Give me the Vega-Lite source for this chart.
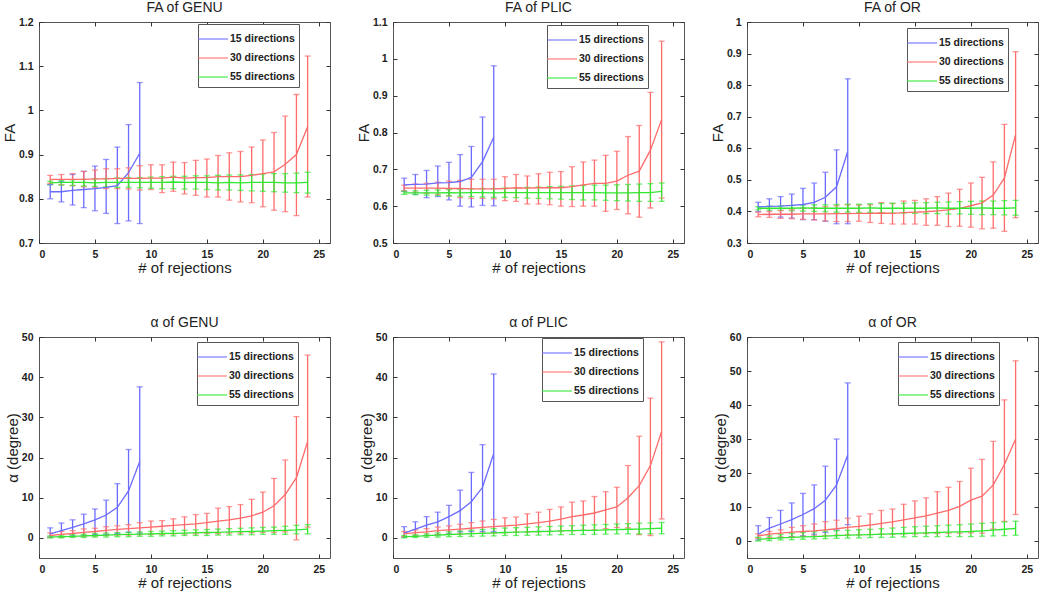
{
"$schema": "https://vega.github.io/schema/vega-lite/v6.json",
"padding": {"left": 1, "top": 0, "right": 5, "bottom": 0},
"background": "white",
"config": {
 "font": "Liberation Sans",
 "view": {"stroke": "#555", "strokeWidth": 1},
 "axis": {"grid": false, "domain": false, "tickSize": -4, "tickColor": "#333", "labelFontSize": 10.5, "labelFontWeight": "bold", "labelColor": "#222", "labelPadding": 10, "titleFontSize": 15, "titleFontWeight": "normal", "titleColor": "#222", "titlePadding": 1},
 "title": {"fontSize": 14, "fontWeight": "normal", "color": "#222", "offset": 2},
 "legend": {"orient": "none", "title": null, "strokeColor": "#555", "fillColor": "white", "padding": 4, "symbolType": "M-1.5,0L1.5,0", "symbolSize": 400, "symbolStrokeWidth": 1.5, "labelFontSize": 10.5, "labelFontWeight": "bold", "labelColor": "#222", "rowPadding": 2, "labelOffset": 6}
},
"resolve": {"legend": {"color": "independent"}},
"columns": 3,
"bounds": "flush",
"spacing": {"row": 94, "column": 63},
"data": {"values": [
{"p":"FA-GENU","s":"15 directions","x":1,"m":0.816,"lo":0.800,"hi":0.832},
{"p":"FA-GENU","s":"15 directions","x":2,"m":0.816,"lo":0.793,"hi":0.839},
{"p":"FA-GENU","s":"15 directions","x":3,"m":0.819,"lo":0.786,"hi":0.855},
{"p":"FA-GENU","s":"15 directions","x":4,"m":0.821,"lo":0.780,"hi":0.862},
{"p":"FA-GENU","s":"15 directions","x":5,"m":0.823,"lo":0.773,"hi":0.874},
{"p":"FA-GENU","s":"15 directions","x":6,"m":0.826,"lo":0.767,"hi":0.889},
{"p":"FA-GENU","s":"15 directions","x":7,"m":0.830,"lo":0.744,"hi":0.917},
{"p":"FA-GENU","s":"15 directions","x":8,"m":0.859,"lo":0.750,"hi":0.968},
{"p":"FA-GENU","s":"15 directions","x":9,"m":0.903,"lo":0.744,"hi":1.063},
{"p":"FA-GENU","s":"30 directions","x":1,"m":0.844,"lo":0.835,"hi":0.853},
{"p":"FA-GENU","s":"30 directions","x":2,"m":0.844,"lo":0.832,"hi":0.855},
{"p":"FA-GENU","s":"30 directions","x":3,"m":0.844,"lo":0.830,"hi":0.857},
{"p":"FA-GENU","s":"30 directions","x":4,"m":0.844,"lo":0.827,"hi":0.862},
{"p":"FA-GENU","s":"30 directions","x":5,"m":0.845,"lo":0.825,"hi":0.865},
{"p":"FA-GENU","s":"30 directions","x":6,"m":0.845,"lo":0.823,"hi":0.868},
{"p":"FA-GENU","s":"30 directions","x":7,"m":0.846,"lo":0.823,"hi":0.868},
{"p":"FA-GENU","s":"30 directions","x":8,"m":0.846,"lo":0.822,"hi":0.870},
{"p":"FA-GENU","s":"30 directions","x":9,"m":0.846,"lo":0.820,"hi":0.875},
{"p":"FA-GENU","s":"30 directions","x":10,"m":0.847,"lo":0.821,"hi":0.877},
{"p":"FA-GENU","s":"30 directions","x":11,"m":0.847,"lo":0.814,"hi":0.877},
{"p":"FA-GENU","s":"30 directions","x":12,"m":0.849,"lo":0.817,"hi":0.883},
{"p":"FA-GENU","s":"30 directions","x":13,"m":0.847,"lo":0.811,"hi":0.882},
{"p":"FA-GENU","s":"30 directions","x":14,"m":0.848,"lo":0.808,"hi":0.887},
{"p":"FA-GENU","s":"30 directions","x":15,"m":0.848,"lo":0.804,"hi":0.890},
{"p":"FA-GENU","s":"30 directions","x":16,"m":0.850,"lo":0.804,"hi":0.898},
{"p":"FA-GENU","s":"30 directions","x":17,"m":0.850,"lo":0.797,"hi":0.904},
{"p":"FA-GENU","s":"30 directions","x":18,"m":0.850,"lo":0.793,"hi":0.907},
{"p":"FA-GENU","s":"30 directions","x":19,"m":0.853,"lo":0.791,"hi":0.917},
{"p":"FA-GENU","s":"30 directions","x":20,"m":0.857,"lo":0.782,"hi":0.933},
{"p":"FA-GENU","s":"30 directions","x":21,"m":0.861,"lo":0.774,"hi":0.950},
{"p":"FA-GENU","s":"30 directions","x":22,"m":0.878,"lo":0.771,"hi":0.987},
{"p":"FA-GENU","s":"30 directions","x":23,"m":0.900,"lo":0.762,"hi":1.036},
{"p":"FA-GENU","s":"30 directions","x":24,"m":0.963,"lo":0.804,"hi":1.123},
{"p":"FA-GENU","s":"55 directions","x":1,"m":0.836,"lo":0.832,"hi":0.840},
{"p":"FA-GENU","s":"55 directions","x":2,"m":0.837,"lo":0.831,"hi":0.842},
{"p":"FA-GENU","s":"55 directions","x":3,"m":0.837,"lo":0.830,"hi":0.843},
{"p":"FA-GENU","s":"55 directions","x":4,"m":0.837,"lo":0.829,"hi":0.844},
{"p":"FA-GENU","s":"55 directions","x":5,"m":0.836,"lo":0.828,"hi":0.845},
{"p":"FA-GENU","s":"55 directions","x":6,"m":0.837,"lo":0.827,"hi":0.846},
{"p":"FA-GENU","s":"55 directions","x":7,"m":0.837,"lo":0.826,"hi":0.847},
{"p":"FA-GENU","s":"55 directions","x":8,"m":0.837,"lo":0.826,"hi":0.848},
{"p":"FA-GENU","s":"55 directions","x":9,"m":0.837,"lo":0.825,"hi":0.848},
{"p":"FA-GENU","s":"55 directions","x":10,"m":0.837,"lo":0.824,"hi":0.849},
{"p":"FA-GENU","s":"55 directions","x":11,"m":0.837,"lo":0.823,"hi":0.850},
{"p":"FA-GENU","s":"55 directions","x":12,"m":0.838,"lo":0.823,"hi":0.851},
{"p":"FA-GENU","s":"55 directions","x":13,"m":0.837,"lo":0.822,"hi":0.851},
{"p":"FA-GENU","s":"55 directions","x":14,"m":0.837,"lo":0.822,"hi":0.852},
{"p":"FA-GENU","s":"55 directions","x":15,"m":0.837,"lo":0.821,"hi":0.852},
{"p":"FA-GENU","s":"55 directions","x":16,"m":0.836,"lo":0.820,"hi":0.853},
{"p":"FA-GENU","s":"55 directions","x":17,"m":0.837,"lo":0.820,"hi":0.854},
{"p":"FA-GENU","s":"55 directions","x":18,"m":0.836,"lo":0.819,"hi":0.854},
{"p":"FA-GENU","s":"55 directions","x":19,"m":0.837,"lo":0.818,"hi":0.855},
{"p":"FA-GENU","s":"55 directions","x":20,"m":0.837,"lo":0.817,"hi":0.856},
{"p":"FA-GENU","s":"55 directions","x":21,"m":0.837,"lo":0.816,"hi":0.857},
{"p":"FA-GENU","s":"55 directions","x":22,"m":0.836,"lo":0.815,"hi":0.857},
{"p":"FA-GENU","s":"55 directions","x":23,"m":0.836,"lo":0.814,"hi":0.858},
{"p":"FA-GENU","s":"55 directions","x":24,"m":0.837,"lo":0.813,"hi":0.860},
{"p":"FA-PLIC","s":"15 directions","x":1,"m":0.658,"lo":0.640,"hi":0.676},
{"p":"FA-PLIC","s":"15 directions","x":2,"m":0.659,"lo":0.632,"hi":0.686},
{"p":"FA-PLIC","s":"15 directions","x":3,"m":0.660,"lo":0.623,"hi":0.697},
{"p":"FA-PLIC","s":"15 directions","x":4,"m":0.663,"lo":0.626,"hi":0.709},
{"p":"FA-PLIC","s":"15 directions","x":5,"m":0.664,"lo":0.617,"hi":0.719},
{"p":"FA-PLIC","s":"15 directions","x":6,"m":0.667,"lo":0.600,"hi":0.740},
{"p":"FA-PLIC","s":"15 directions","x":7,"m":0.678,"lo":0.598,"hi":0.762},
{"p":"FA-PLIC","s":"15 directions","x":8,"m":0.721,"lo":0.602,"hi":0.842},
{"p":"FA-PLIC","s":"15 directions","x":9,"m":0.787,"lo":0.601,"hi":0.981},
{"p":"FA-PLIC","s":"30 directions","x":1,"m":0.649,"lo":0.642,"hi":0.657},
{"p":"FA-PLIC","s":"30 directions","x":2,"m":0.649,"lo":0.638,"hi":0.660},
{"p":"FA-PLIC","s":"30 directions","x":3,"m":0.649,"lo":0.635,"hi":0.662},
{"p":"FA-PLIC","s":"30 directions","x":4,"m":0.649,"lo":0.632,"hi":0.665},
{"p":"FA-PLIC","s":"30 directions","x":5,"m":0.648,"lo":0.628,"hi":0.668},
{"p":"FA-PLIC","s":"30 directions","x":6,"m":0.648,"lo":0.623,"hi":0.670},
{"p":"FA-PLIC","s":"30 directions","x":7,"m":0.647,"lo":0.621,"hi":0.673},
{"p":"FA-PLIC","s":"30 directions","x":8,"m":0.647,"lo":0.621,"hi":0.673},
{"p":"FA-PLIC","s":"30 directions","x":9,"m":0.647,"lo":0.620,"hi":0.673},
{"p":"FA-PLIC","s":"30 directions","x":10,"m":0.648,"lo":0.615,"hi":0.680},
{"p":"FA-PLIC","s":"30 directions","x":11,"m":0.650,"lo":0.613,"hi":0.686},
{"p":"FA-PLIC","s":"30 directions","x":12,"m":0.649,"lo":0.606,"hi":0.682},
{"p":"FA-PLIC","s":"30 directions","x":13,"m":0.650,"lo":0.606,"hi":0.688},
{"p":"FA-PLIC","s":"30 directions","x":14,"m":0.650,"lo":0.604,"hi":0.692},
{"p":"FA-PLIC","s":"30 directions","x":15,"m":0.650,"lo":0.600,"hi":0.694},
{"p":"FA-PLIC","s":"30 directions","x":16,"m":0.653,"lo":0.599,"hi":0.707},
{"p":"FA-PLIC","s":"30 directions","x":17,"m":0.658,"lo":0.600,"hi":0.720},
{"p":"FA-PLIC","s":"30 directions","x":18,"m":0.662,"lo":0.600,"hi":0.725},
{"p":"FA-PLIC","s":"30 directions","x":19,"m":0.662,"lo":0.586,"hi":0.738},
{"p":"FA-PLIC","s":"30 directions","x":20,"m":0.668,"lo":0.591,"hi":0.749},
{"p":"FA-PLIC","s":"30 directions","x":21,"m":0.684,"lo":0.579,"hi":0.789},
{"p":"FA-PLIC","s":"30 directions","x":22,"m":0.695,"lo":0.570,"hi":0.819},
{"p":"FA-PLIC","s":"30 directions","x":23,"m":0.752,"lo":0.595,"hi":0.909},
{"p":"FA-PLIC","s":"30 directions","x":24,"m":0.835,"lo":0.622,"hi":1.048},
{"p":"FA-PLIC","s":"55 directions","x":1,"m":0.636,"lo":0.632,"hi":0.641},
{"p":"FA-PLIC","s":"55 directions","x":2,"m":0.636,"lo":0.631,"hi":0.642},
{"p":"FA-PLIC","s":"55 directions","x":3,"m":0.636,"lo":0.630,"hi":0.643},
{"p":"FA-PLIC","s":"55 directions","x":4,"m":0.636,"lo":0.629,"hi":0.644},
{"p":"FA-PLIC","s":"55 directions","x":5,"m":0.637,"lo":0.628,"hi":0.645},
{"p":"FA-PLIC","s":"55 directions","x":6,"m":0.636,"lo":0.627,"hi":0.646},
{"p":"FA-PLIC","s":"55 directions","x":7,"m":0.637,"lo":0.626,"hi":0.647},
{"p":"FA-PLIC","s":"55 directions","x":8,"m":0.637,"lo":0.625,"hi":0.648},
{"p":"FA-PLIC","s":"55 directions","x":9,"m":0.636,"lo":0.624,"hi":0.648},
{"p":"FA-PLIC","s":"55 directions","x":10,"m":0.637,"lo":0.624,"hi":0.649},
{"p":"FA-PLIC","s":"55 directions","x":11,"m":0.637,"lo":0.623,"hi":0.650},
{"p":"FA-PLIC","s":"55 directions","x":12,"m":0.637,"lo":0.622,"hi":0.651},
{"p":"FA-PLIC","s":"55 directions","x":13,"m":0.637,"lo":0.621,"hi":0.652},
{"p":"FA-PLIC","s":"55 directions","x":14,"m":0.637,"lo":0.620,"hi":0.653},
{"p":"FA-PLIC","s":"55 directions","x":15,"m":0.637,"lo":0.619,"hi":0.654},
{"p":"FA-PLIC","s":"55 directions","x":16,"m":0.637,"lo":0.618,"hi":0.655},
{"p":"FA-PLIC","s":"55 directions","x":17,"m":0.637,"lo":0.617,"hi":0.656},
{"p":"FA-PLIC","s":"55 directions","x":18,"m":0.637,"lo":0.617,"hi":0.657},
{"p":"FA-PLIC","s":"55 directions","x":19,"m":0.636,"lo":0.616,"hi":0.657},
{"p":"FA-PLIC","s":"55 directions","x":20,"m":0.636,"lo":0.615,"hi":0.658},
{"p":"FA-PLIC","s":"55 directions","x":21,"m":0.636,"lo":0.614,"hi":0.659},
{"p":"FA-PLIC","s":"55 directions","x":22,"m":0.637,"lo":0.613,"hi":0.660},
{"p":"FA-PLIC","s":"55 directions","x":23,"m":0.637,"lo":0.613,"hi":0.661},
{"p":"FA-PLIC","s":"55 directions","x":24,"m":0.640,"lo":0.613,"hi":0.663},
{"p":"FA-OR","s":"15 directions","x":1,"m":0.414,"lo":0.399,"hi":0.429},
{"p":"FA-OR","s":"15 directions","x":2,"m":0.416,"lo":0.390,"hi":0.440},
{"p":"FA-OR","s":"15 directions","x":3,"m":0.417,"lo":0.382,"hi":0.447},
{"p":"FA-OR","s":"15 directions","x":4,"m":0.419,"lo":0.379,"hi":0.455},
{"p":"FA-OR","s":"15 directions","x":5,"m":0.422,"lo":0.374,"hi":0.473},
{"p":"FA-OR","s":"15 directions","x":6,"m":0.429,"lo":0.374,"hi":0.490},
{"p":"FA-OR","s":"15 directions","x":7,"m":0.445,"lo":0.369,"hi":0.524},
{"p":"FA-OR","s":"15 directions","x":8,"m":0.478,"lo":0.361,"hi":0.595},
{"p":"FA-OR","s":"15 directions","x":9,"m":0.590,"lo":0.361,"hi":0.820},
{"p":"FA-OR","s":"30 directions","x":1,"m":0.390,"lo":0.383,"hi":0.398},
{"p":"FA-OR","s":"30 directions","x":2,"m":0.391,"lo":0.381,"hi":0.400},
{"p":"FA-OR","s":"30 directions","x":3,"m":0.391,"lo":0.378,"hi":0.403},
{"p":"FA-OR","s":"30 directions","x":4,"m":0.391,"lo":0.377,"hi":0.405},
{"p":"FA-OR","s":"30 directions","x":5,"m":0.392,"lo":0.375,"hi":0.410},
{"p":"FA-OR","s":"30 directions","x":6,"m":0.392,"lo":0.373,"hi":0.412},
{"p":"FA-OR","s":"30 directions","x":7,"m":0.392,"lo":0.370,"hi":0.415},
{"p":"FA-OR","s":"30 directions","x":8,"m":0.393,"lo":0.368,"hi":0.418},
{"p":"FA-OR","s":"30 directions","x":9,"m":0.393,"lo":0.368,"hi":0.421},
{"p":"FA-OR","s":"30 directions","x":10,"m":0.394,"lo":0.369,"hi":0.420},
{"p":"FA-OR","s":"30 directions","x":11,"m":0.394,"lo":0.365,"hi":0.421},
{"p":"FA-OR","s":"30 directions","x":12,"m":0.395,"lo":0.362,"hi":0.428},
{"p":"FA-OR","s":"30 directions","x":13,"m":0.394,"lo":0.360,"hi":0.425},
{"p":"FA-OR","s":"30 directions","x":14,"m":0.396,"lo":0.360,"hi":0.433},
{"p":"FA-OR","s":"30 directions","x":15,"m":0.398,"lo":0.360,"hi":0.435},
{"p":"FA-OR","s":"30 directions","x":16,"m":0.399,"lo":0.356,"hi":0.440},
{"p":"FA-OR","s":"30 directions","x":17,"m":0.402,"lo":0.356,"hi":0.447},
{"p":"FA-OR","s":"30 directions","x":18,"m":0.405,"lo":0.352,"hi":0.458},
{"p":"FA-OR","s":"30 directions","x":19,"m":0.410,"lo":0.353,"hi":0.470},
{"p":"FA-OR","s":"30 directions","x":20,"m":0.418,"lo":0.350,"hi":0.490},
{"p":"FA-OR","s":"30 directions","x":21,"m":0.427,"lo":0.345,"hi":0.508},
{"p":"FA-OR","s":"30 directions","x":22,"m":0.452,"lo":0.347,"hi":0.557},
{"p":"FA-OR","s":"30 directions","x":23,"m":0.506,"lo":0.337,"hi":0.676},
{"p":"FA-OR","s":"30 directions","x":24,"m":0.643,"lo":0.380,"hi":0.906},
{"p":"FA-OR","s":"55 directions","x":1,"m":0.410,"lo":0.405,"hi":0.415},
{"p":"FA-OR","s":"55 directions","x":2,"m":0.410,"lo":0.404,"hi":0.417},
{"p":"FA-OR","s":"55 directions","x":3,"m":0.410,"lo":0.403,"hi":0.418},
{"p":"FA-OR","s":"55 directions","x":4,"m":0.410,"lo":0.402,"hi":0.419},
{"p":"FA-OR","s":"55 directions","x":5,"m":0.411,"lo":0.401,"hi":0.420},
{"p":"FA-OR","s":"55 directions","x":6,"m":0.410,"lo":0.400,"hi":0.421},
{"p":"FA-OR","s":"55 directions","x":7,"m":0.410,"lo":0.399,"hi":0.421},
{"p":"FA-OR","s":"55 directions","x":8,"m":0.410,"lo":0.398,"hi":0.422},
{"p":"FA-OR","s":"55 directions","x":9,"m":0.410,"lo":0.398,"hi":0.423},
{"p":"FA-OR","s":"55 directions","x":10,"m":0.410,"lo":0.397,"hi":0.423},
{"p":"FA-OR","s":"55 directions","x":11,"m":0.411,"lo":0.397,"hi":0.424},
{"p":"FA-OR","s":"55 directions","x":12,"m":0.410,"lo":0.396,"hi":0.425},
{"p":"FA-OR","s":"55 directions","x":13,"m":0.410,"lo":0.395,"hi":0.426},
{"p":"FA-OR","s":"55 directions","x":14,"m":0.410,"lo":0.395,"hi":0.426},
{"p":"FA-OR","s":"55 directions","x":15,"m":0.410,"lo":0.394,"hi":0.427},
{"p":"FA-OR","s":"55 directions","x":16,"m":0.410,"lo":0.393,"hi":0.428},
{"p":"FA-OR","s":"55 directions","x":17,"m":0.411,"lo":0.393,"hi":0.429},
{"p":"FA-OR","s":"55 directions","x":18,"m":0.410,"lo":0.392,"hi":0.430},
{"p":"FA-OR","s":"55 directions","x":19,"m":0.410,"lo":0.392,"hi":0.431},
{"p":"FA-OR","s":"55 directions","x":20,"m":0.410,"lo":0.391,"hi":0.432},
{"p":"FA-OR","s":"55 directions","x":21,"m":0.411,"lo":0.390,"hi":0.433},
{"p":"FA-OR","s":"55 directions","x":22,"m":0.410,"lo":0.390,"hi":0.433},
{"p":"FA-OR","s":"55 directions","x":23,"m":0.410,"lo":0.389,"hi":0.434},
{"p":"FA-OR","s":"55 directions","x":24,"m":0.411,"lo":0.388,"hi":0.435},
{"p":"A-GENU","s":"15 directions","x":1,"m":1.0,"lo":0.2,"hi":2.5},
{"p":"A-GENU","s":"15 directions","x":2,"m":1.8,"lo":0.3,"hi":3.7},
{"p":"A-GENU","s":"15 directions","x":3,"m":2.6,"lo":0.5,"hi":4.5},
{"p":"A-GENU","s":"15 directions","x":4,"m":3.5,"lo":0.6,"hi":5.9},
{"p":"A-GENU","s":"15 directions","x":5,"m":4.5,"lo":0.8,"hi":7.2},
{"p":"A-GENU","s":"15 directions","x":6,"m":5.7,"lo":0.9,"hi":9.4},
{"p":"A-GENU","s":"15 directions","x":7,"m":7.6,"lo":1.1,"hi":13.5},
{"p":"A-GENU","s":"15 directions","x":8,"m":11.7,"lo":1.4,"hi":22.0},
{"p":"A-GENU","s":"15 directions","x":9,"m":19.0,"lo":1.2,"hi":37.6},
{"p":"A-GENU","s":"30 directions","x":1,"m":0.6,"lo":0.1,"hi":1.25},
{"p":"A-GENU","s":"30 directions","x":2,"m":0.9,"lo":0.2,"hi":1.6},
{"p":"A-GENU","s":"30 directions","x":3,"m":1.1,"lo":0.3,"hi":1.8},
{"p":"A-GENU","s":"30 directions","x":4,"m":1.4,"lo":0.4,"hi":2.25},
{"p":"A-GENU","s":"30 directions","x":5,"m":1.6,"lo":0.5,"hi":2.4},
{"p":"A-GENU","s":"30 directions","x":6,"m":1.9,"lo":0.6,"hi":2.8},
{"p":"A-GENU","s":"30 directions","x":7,"m":2.1,"lo":0.7,"hi":3.0},
{"p":"A-GENU","s":"30 directions","x":8,"m":2.3,"lo":0.7,"hi":3.3},
{"p":"A-GENU","s":"30 directions","x":9,"m":2.5,"lo":0.8,"hi":3.8},
{"p":"A-GENU","s":"30 directions","x":10,"m":2.7,"lo":0.9,"hi":4.2},
{"p":"A-GENU","s":"30 directions","x":11,"m":2.9,"lo":0.9,"hi":4.3},
{"p":"A-GENU","s":"30 directions","x":12,"m":3.1,"lo":1.0,"hi":4.75},
{"p":"A-GENU","s":"30 directions","x":13,"m":3.3,"lo":1.0,"hi":5.25},
{"p":"A-GENU","s":"30 directions","x":14,"m":3.5,"lo":1.0,"hi":5.8},
{"p":"A-GENU","s":"30 directions","x":15,"m":3.8,"lo":1.1,"hi":6.1},
{"p":"A-GENU","s":"30 directions","x":16,"m":4.2,"lo":1.1,"hi":7.4},
{"p":"A-GENU","s":"30 directions","x":17,"m":4.5,"lo":1.2,"hi":7.8},
{"p":"A-GENU","s":"30 directions","x":18,"m":4.9,"lo":1.2,"hi":8.3},
{"p":"A-GENU","s":"30 directions","x":19,"m":5.5,"lo":1.3,"hi":9.6},
{"p":"A-GENU","s":"30 directions","x":20,"m":6.4,"lo":1.4,"hi":11.4},
{"p":"A-GENU","s":"30 directions","x":21,"m":8.0,"lo":1.4,"hi":14.8},
{"p":"A-GENU","s":"30 directions","x":22,"m":10.8,"lo":1.5,"hi":19.4},
{"p":"A-GENU","s":"30 directions","x":23,"m":15.0,"lo":-0.5,"hi":30.2},
{"p":"A-GENU","s":"30 directions","x":24,"m":24.0,"lo":2.7,"hi":45.5},
{"p":"A-GENU","s":"55 directions","x":1,"m":0.2,"lo":0.0,"hi":0.5},
{"p":"A-GENU","s":"55 directions","x":2,"m":0.3,"lo":0.0,"hi":0.7},
{"p":"A-GENU","s":"55 directions","x":3,"m":0.4,"lo":0.1,"hi":0.8},
{"p":"A-GENU","s":"55 directions","x":4,"m":0.5,"lo":0.1,"hi":0.9},
{"p":"A-GENU","s":"55 directions","x":5,"m":0.6,"lo":0.2,"hi":1.1},
{"p":"A-GENU","s":"55 directions","x":6,"m":0.7,"lo":0.2,"hi":1.2},
{"p":"A-GENU","s":"55 directions","x":7,"m":0.8,"lo":0.3,"hi":1.3},
{"p":"A-GENU","s":"55 directions","x":8,"m":0.9,"lo":0.3,"hi":1.4},
{"p":"A-GENU","s":"55 directions","x":9,"m":0.95,"lo":0.4,"hi":1.5},
{"p":"A-GENU","s":"55 directions","x":10,"m":1.0,"lo":0.4,"hi":1.6},
{"p":"A-GENU","s":"55 directions","x":11,"m":1.1,"lo":0.5,"hi":1.7},
{"p":"A-GENU","s":"55 directions","x":12,"m":1.15,"lo":0.5,"hi":1.8},
{"p":"A-GENU","s":"55 directions","x":13,"m":1.2,"lo":0.6,"hi":1.9},
{"p":"A-GENU","s":"55 directions","x":14,"m":1.3,"lo":0.6,"hi":2.0},
{"p":"A-GENU","s":"55 directions","x":15,"m":1.35,"lo":0.6,"hi":2.1},
{"p":"A-GENU","s":"55 directions","x":16,"m":1.4,"lo":0.7,"hi":2.2},
{"p":"A-GENU","s":"55 directions","x":17,"m":1.5,"lo":0.7,"hi":2.3},
{"p":"A-GENU","s":"55 directions","x":18,"m":1.55,"lo":0.8,"hi":2.4},
{"p":"A-GENU","s":"55 directions","x":19,"m":1.6,"lo":0.8,"hi":2.5},
{"p":"A-GENU","s":"55 directions","x":20,"m":1.7,"lo":0.9,"hi":2.6},
{"p":"A-GENU","s":"55 directions","x":21,"m":1.8,"lo":0.9,"hi":2.7},
{"p":"A-GENU","s":"55 directions","x":22,"m":1.9,"lo":0.9,"hi":2.9},
{"p":"A-GENU","s":"55 directions","x":23,"m":2.0,"lo":1.0,"hi":3.1},
{"p":"A-GENU","s":"55 directions","x":24,"m":2.2,"lo":1.0,"hi":3.3},
{"p":"A-PLIC","s":"15 directions","x":1,"m":1.2,"lo":0.2,"hi":2.8},
{"p":"A-PLIC","s":"15 directions","x":2,"m":2.2,"lo":0.4,"hi":4.0},
{"p":"A-PLIC","s":"15 directions","x":3,"m":3.2,"lo":0.6,"hi":5.3},
{"p":"A-PLIC","s":"15 directions","x":4,"m":4.0,"lo":0.8,"hi":6.4},
{"p":"A-PLIC","s":"15 directions","x":5,"m":5.3,"lo":1.0,"hi":8.1},
{"p":"A-PLIC","s":"15 directions","x":6,"m":6.8,"lo":1.5,"hi":11.9},
{"p":"A-PLIC","s":"15 directions","x":7,"m":9.0,"lo":1.6,"hi":16.3},
{"p":"A-PLIC","s":"15 directions","x":8,"m":12.6,"lo":1.6,"hi":23.2},
{"p":"A-PLIC","s":"15 directions","x":9,"m":21.0,"lo":1.6,"hi":40.8},
{"p":"A-PLIC","s":"30 directions","x":1,"m":1.0,"lo":0.3,"hi":1.6},
{"p":"A-PLIC","s":"30 directions","x":2,"m":1.3,"lo":0.5,"hi":2.0},
{"p":"A-PLIC","s":"30 directions","x":3,"m":1.5,"lo":0.6,"hi":2.3},
{"p":"A-PLIC","s":"30 directions","x":4,"m":1.8,"lo":0.8,"hi":2.7},
{"p":"A-PLIC","s":"30 directions","x":5,"m":2.0,"lo":0.9,"hi":3.0},
{"p":"A-PLIC","s":"30 directions","x":6,"m":2.2,"lo":1.0,"hi":3.4},
{"p":"A-PLIC","s":"30 directions","x":7,"m":2.4,"lo":1.1,"hi":3.8},
{"p":"A-PLIC","s":"30 directions","x":8,"m":2.6,"lo":1.2,"hi":4.2},
{"p":"A-PLIC","s":"30 directions","x":9,"m":2.8,"lo":1.2,"hi":4.6},
{"p":"A-PLIC","s":"30 directions","x":10,"m":3.0,"lo":1.3,"hi":5.0},
{"p":"A-PLIC","s":"30 directions","x":11,"m":3.2,"lo":1.4,"hi":5.2},
{"p":"A-PLIC","s":"30 directions","x":12,"m":3.5,"lo":1.4,"hi":6.0},
{"p":"A-PLIC","s":"30 directions","x":13,"m":3.8,"lo":1.5,"hi":6.4},
{"p":"A-PLIC","s":"30 directions","x":14,"m":4.2,"lo":1.6,"hi":7.1},
{"p":"A-PLIC","s":"30 directions","x":15,"m":4.7,"lo":1.7,"hi":7.7},
{"p":"A-PLIC","s":"30 directions","x":16,"m":5.3,"lo":1.8,"hi":8.9},
{"p":"A-PLIC","s":"30 directions","x":17,"m":5.7,"lo":1.9,"hi":9.2},
{"p":"A-PLIC","s":"30 directions","x":18,"m":6.2,"lo":2.0,"hi":10.3},
{"p":"A-PLIC","s":"30 directions","x":19,"m":7.0,"lo":2.3,"hi":11.5},
{"p":"A-PLIC","s":"30 directions","x":20,"m":7.7,"lo":2.6,"hi":12.6},
{"p":"A-PLIC","s":"30 directions","x":21,"m":10.0,"lo":2.5,"hi":18.0},
{"p":"A-PLIC","s":"30 directions","x":22,"m":13.0,"lo":0.8,"hi":25.3},
{"p":"A-PLIC","s":"30 directions","x":23,"m":18.0,"lo":0.6,"hi":34.8},
{"p":"A-PLIC","s":"30 directions","x":24,"m":26.5,"lo":4.7,"hi":48.8},
{"p":"A-PLIC","s":"55 directions","x":1,"m":0.3,"lo":0.0,"hi":0.6},
{"p":"A-PLIC","s":"55 directions","x":2,"m":0.4,"lo":0.1,"hi":0.8},
{"p":"A-PLIC","s":"55 directions","x":3,"m":0.55,"lo":0.15,"hi":1.0},
{"p":"A-PLIC","s":"55 directions","x":4,"m":0.7,"lo":0.2,"hi":1.25},
{"p":"A-PLIC","s":"55 directions","x":5,"m":0.85,"lo":0.3,"hi":1.5},
{"p":"A-PLIC","s":"55 directions","x":6,"m":0.95,"lo":0.35,"hi":1.7},
{"p":"A-PLIC","s":"55 directions","x":7,"m":1.05,"lo":0.4,"hi":1.9},
{"p":"A-PLIC","s":"55 directions","x":8,"m":1.15,"lo":0.45,"hi":2.1},
{"p":"A-PLIC","s":"55 directions","x":9,"m":1.25,"lo":0.5,"hi":2.3},
{"p":"A-PLIC","s":"55 directions","x":10,"m":1.35,"lo":0.6,"hi":2.45},
{"p":"A-PLIC","s":"55 directions","x":11,"m":1.45,"lo":0.6,"hi":2.55},
{"p":"A-PLIC","s":"55 directions","x":12,"m":1.5,"lo":0.65,"hi":2.65},
{"p":"A-PLIC","s":"55 directions","x":13,"m":1.6,"lo":0.7,"hi":2.75},
{"p":"A-PLIC","s":"55 directions","x":14,"m":1.65,"lo":0.75,"hi":2.85},
{"p":"A-PLIC","s":"55 directions","x":15,"m":1.75,"lo":0.8,"hi":2.95},
{"p":"A-PLIC","s":"55 directions","x":16,"m":1.8,"lo":0.85,"hi":3.05},
{"p":"A-PLIC","s":"55 directions","x":17,"m":1.85,"lo":0.85,"hi":3.15},
{"p":"A-PLIC","s":"55 directions","x":18,"m":1.9,"lo":0.9,"hi":3.25},
{"p":"A-PLIC","s":"55 directions","x":19,"m":2.0,"lo":0.95,"hi":3.35},
{"p":"A-PLIC","s":"55 directions","x":20,"m":2.05,"lo":1.0,"hi":3.45},
{"p":"A-PLIC","s":"55 directions","x":21,"m":2.15,"lo":1.0,"hi":3.55},
{"p":"A-PLIC","s":"55 directions","x":22,"m":2.2,"lo":1.0,"hi":3.65},
{"p":"A-PLIC","s":"55 directions","x":23,"m":2.3,"lo":1.05,"hi":3.75},
{"p":"A-PLIC","s":"55 directions","x":24,"m":2.4,"lo":1.05,"hi":3.85},
{"p":"A-OR","s":"15 directions","x":1,"m":2.0,"lo":0.3,"hi":4.5},
{"p":"A-OR","s":"15 directions","x":2,"m":3.8,"lo":0.7,"hi":6.9},
{"p":"A-OR","s":"15 directions","x":3,"m":5.0,"lo":1.0,"hi":9.0},
{"p":"A-OR","s":"15 directions","x":4,"m":6.3,"lo":1.3,"hi":11.2},
{"p":"A-OR","s":"15 directions","x":5,"m":7.8,"lo":1.5,"hi":14.0},
{"p":"A-OR","s":"15 directions","x":6,"m":9.5,"lo":2.0,"hi":16.5},
{"p":"A-OR","s":"15 directions","x":7,"m":12.0,"lo":2.5,"hi":22.0},
{"p":"A-OR","s":"15 directions","x":8,"m":16.5,"lo":3.2,"hi":30.0},
{"p":"A-OR","s":"15 directions","x":9,"m":25.3,"lo":4.8,"hi":46.5},
{"p":"A-OR","s":"30 directions","x":1,"m":1.5,"lo":0.8,"hi":2.1},
{"p":"A-OR","s":"30 directions","x":2,"m":2.0,"lo":1.0,"hi":2.8},
{"p":"A-OR","s":"30 directions","x":3,"m":2.3,"lo":1.2,"hi":3.3},
{"p":"A-OR","s":"30 directions","x":4,"m":2.6,"lo":1.3,"hi":4.0},
{"p":"A-OR","s":"30 directions","x":5,"m":2.8,"lo":1.4,"hi":4.5},
{"p":"A-OR","s":"30 directions","x":6,"m":3.0,"lo":1.5,"hi":5.0},
{"p":"A-OR","s":"30 directions","x":7,"m":3.3,"lo":1.6,"hi":5.7},
{"p":"A-OR","s":"30 directions","x":8,"m":3.6,"lo":1.7,"hi":6.1},
{"p":"A-OR","s":"30 directions","x":9,"m":4.0,"lo":1.8,"hi":6.7},
{"p":"A-OR","s":"30 directions","x":10,"m":4.3,"lo":1.8,"hi":7.3},
{"p":"A-OR","s":"30 directions","x":11,"m":4.7,"lo":1.9,"hi":8.0},
{"p":"A-OR","s":"30 directions","x":12,"m":5.2,"lo":2.0,"hi":9.0},
{"p":"A-OR","s":"30 directions","x":13,"m":5.6,"lo":2.0,"hi":9.4},
{"p":"A-OR","s":"30 directions","x":14,"m":6.2,"lo":2.1,"hi":10.8},
{"p":"A-OR","s":"30 directions","x":15,"m":6.8,"lo":2.1,"hi":11.8},
{"p":"A-OR","s":"30 directions","x":16,"m":7.4,"lo":2.2,"hi":12.7},
{"p":"A-OR","s":"30 directions","x":17,"m":8.2,"lo":2.2,"hi":14.5},
{"p":"A-OR","s":"30 directions","x":18,"m":9.0,"lo":2.3,"hi":15.8},
{"p":"A-OR","s":"30 directions","x":19,"m":10.2,"lo":2.3,"hi":17.5},
{"p":"A-OR","s":"30 directions","x":20,"m":12.0,"lo":2.4,"hi":21.4},
{"p":"A-OR","s":"30 directions","x":21,"m":13.2,"lo":2.3,"hi":24.0},
{"p":"A-OR","s":"30 directions","x":22,"m":16.5,"lo":3.5,"hi":29.3},
{"p":"A-OR","s":"30 directions","x":23,"m":22.5,"lo":5.8,"hi":41.5},
{"p":"A-OR","s":"30 directions","x":24,"m":30.0,"lo":7.8,"hi":53.0},
{"p":"A-OR","s":"55 directions","x":1,"m":0.5,"lo":0.0,"hi":1.1},
{"p":"A-OR","s":"55 directions","x":2,"m":0.7,"lo":0.1,"hi":1.5},
{"p":"A-OR","s":"55 directions","x":3,"m":0.9,"lo":0.3,"hi":1.9},
{"p":"A-OR","s":"55 directions","x":4,"m":1.05,"lo":0.4,"hi":2.2},
{"p":"A-OR","s":"55 directions","x":5,"m":1.2,"lo":0.5,"hi":2.5},
{"p":"A-OR","s":"55 directions","x":6,"m":1.3,"lo":0.6,"hi":2.7},
{"p":"A-OR","s":"55 directions","x":7,"m":1.45,"lo":0.7,"hi":2.9},
{"p":"A-OR","s":"55 directions","x":8,"m":1.6,"lo":0.8,"hi":3.0},
{"p":"A-OR","s":"55 directions","x":9,"m":1.7,"lo":0.85,"hi":3.15},
{"p":"A-OR","s":"55 directions","x":10,"m":1.8,"lo":0.9,"hi":3.3},
{"p":"A-OR","s":"55 directions","x":11,"m":1.9,"lo":1.0,"hi":3.45},
{"p":"A-OR","s":"55 directions","x":12,"m":2.0,"lo":1.05,"hi":3.6},
{"p":"A-OR","s":"55 directions","x":13,"m":2.1,"lo":1.1,"hi":3.8},
{"p":"A-OR","s":"55 directions","x":14,"m":2.2,"lo":1.2,"hi":4.0},
{"p":"A-OR","s":"55 directions","x":15,"m":2.3,"lo":1.3,"hi":4.2},
{"p":"A-OR","s":"55 directions","x":16,"m":2.4,"lo":1.3,"hi":4.35},
{"p":"A-OR","s":"55 directions","x":17,"m":2.5,"lo":1.3,"hi":4.5},
{"p":"A-OR","s":"55 directions","x":18,"m":2.6,"lo":1.3,"hi":4.65},
{"p":"A-OR","s":"55 directions","x":19,"m":2.7,"lo":1.3,"hi":4.8},
{"p":"A-OR","s":"55 directions","x":20,"m":2.8,"lo":1.3,"hi":5.0},
{"p":"A-OR","s":"55 directions","x":21,"m":3.0,"lo":1.4,"hi":5.2},
{"p":"A-OR","s":"55 directions","x":22,"m":3.2,"lo":1.5,"hi":5.4},
{"p":"A-OR","s":"55 directions","x":23,"m":3.45,"lo":1.6,"hi":5.6},
{"p":"A-OR","s":"55 directions","x":24,"m":3.7,"lo":1.7,"hi":5.8}
]},
"concat": [
{"title": "FA of GENU", "width": 291, "height": 221,
 "transform": [{"filter": "datum.p === 'FA-GENU'"}],
 "resolve": {"axis": {"x": "independent", "y": "independent"}},
 "layer": [
  {"mark": {"type": "rule", "strokeWidth": 1.3},
   "encoding": {
    "x": {"field": "x", "type": "quantitative", "scale": {"domain": [0, 25]}, "axis": {"values": [0, 5, 10, 15, 20, 25], "title": "# of rejections"}},
    "y": {"field": "lo", "type": "quantitative", "scale": {"domain": [0.7, 1.2]}, "axis": {"values": [0.7, 0.8, 0.9, 1, 1.1, 1.2], "format": "~g", "title": "FA"}},
    "y2": {"field": "hi"},
    "color": {"field": "s", "type": "nominal", "scale": {"domain": ["15 directions", "30 directions", "55 directions"], "range": ["#6b6bff", "#ff6b6b", "#2fe82f"]}, "legend": {"orient": "none", "legendX": 159, "legendY": 2, "symbolType": "M-1.5,0L1.5,0"}}}},
  {"mark": {"type": "tick", "orient": "horizontal", "size": 6, "thickness": 1.3},
   "encoding": {"x": {"field": "x", "type": "quantitative", "axis": null}, "y": {"field": "lo", "type": "quantitative", "axis": null}, "color": {"field": "s", "type": "nominal"}}},
  {"mark": {"type": "tick", "orient": "horizontal", "size": 6, "thickness": 1.3},
   "encoding": {"x": {"field": "x", "type": "quantitative", "axis": null}, "y": {"field": "hi", "type": "quantitative", "axis": null}, "color": {"field": "s", "type": "nominal"}}},
  {"mark": {"type": "line", "strokeWidth": 1.3},
   "encoding": {"x": {"field": "x", "type": "quantitative", "axis": {"orient": "top", "labels": false, "title": null, "values": [0, 5, 10, 15, 20, 25]}}, "y": {"field": "m", "type": "quantitative", "axis": {"orient": "right", "labels": false, "title": null, "values": [0.7, 0.8, 0.9, 1, 1.1, 1.2]}}, "color": {"field": "s", "type": "nominal"}}}
 ]},
{"title": "FA of PLIC", "width": 291, "height": 221,
 "transform": [{"filter": "datum.p === 'FA-PLIC'"}],
 "resolve": {"axis": {"x": "independent", "y": "independent"}},
 "layer": [
  {"mark": {"type": "rule", "strokeWidth": 1.3},
   "encoding": {
    "x": {"field": "x", "type": "quantitative", "scale": {"domain": [0, 25]}, "axis": {"values": [0, 5, 10, 15, 20, 25], "title": "# of rejections"}},
    "y": {"field": "lo", "type": "quantitative", "scale": {"domain": [0.5, 1.1]}, "axis": {"values": [0.5, 0.6, 0.7, 0.8, 0.9, 1, 1.1], "format": "~g", "title": "FA"}},
    "y2": {"field": "hi"},
    "color": {"field": "s", "type": "nominal", "scale": {"domain": ["15 directions", "30 directions", "55 directions"], "range": ["#6b6bff", "#ff6b6b", "#2fe82f"]}, "legend": {"orient": "none", "legendX": 154, "legendY": 3, "symbolType": "M-1.5,0L1.5,0"}}}},
  {"mark": {"type": "tick", "orient": "horizontal", "size": 6, "thickness": 1.3},
   "encoding": {"x": {"field": "x", "type": "quantitative", "axis": null}, "y": {"field": "lo", "type": "quantitative", "axis": null}, "color": {"field": "s", "type": "nominal"}}},
  {"mark": {"type": "tick", "orient": "horizontal", "size": 6, "thickness": 1.3},
   "encoding": {"x": {"field": "x", "type": "quantitative", "axis": null}, "y": {"field": "hi", "type": "quantitative", "axis": null}, "color": {"field": "s", "type": "nominal"}}},
  {"mark": {"type": "line", "strokeWidth": 1.3},
   "encoding": {"x": {"field": "x", "type": "quantitative", "axis": {"orient": "top", "labels": false, "title": null, "values": [0, 5, 10, 15, 20, 25]}}, "y": {"field": "m", "type": "quantitative", "axis": {"orient": "right", "labels": false, "title": null, "values": [0.5, 0.6, 0.7, 0.8, 0.9, 1, 1.1]}}, "color": {"field": "s", "type": "nominal"}}}
 ]},
{"title": "FA of OR", "width": 291, "height": 221,
 "transform": [{"filter": "datum.p === 'FA-OR'"}],
 "resolve": {"axis": {"x": "independent", "y": "independent"}},
 "layer": [
  {"mark": {"type": "rule", "strokeWidth": 1.3},
   "encoding": {
    "x": {"field": "x", "type": "quantitative", "scale": {"domain": [0, 25]}, "axis": {"values": [0, 5, 10, 15, 20, 25], "title": "# of rejections"}},
    "y": {"field": "lo", "type": "quantitative", "scale": {"domain": [0.3, 1.0]}, "axis": {"values": [0.3, 0.4, 0.5, 0.6, 0.7, 0.8, 0.9, 1], "format": "~g", "title": "FA"}},
    "y2": {"field": "hi"},
    "color": {"field": "s", "type": "nominal", "scale": {"domain": ["15 directions", "30 directions", "55 directions"], "range": ["#6b6bff", "#ff6b6b", "#2fe82f"]}, "legend": {"orient": "none", "legendX": 160, "legendY": 6, "symbolType": "M-1.5,0L1.5,0"}}}},
  {"mark": {"type": "tick", "orient": "horizontal", "size": 6, "thickness": 1.3},
   "encoding": {"x": {"field": "x", "type": "quantitative", "axis": null}, "y": {"field": "lo", "type": "quantitative", "axis": null}, "color": {"field": "s", "type": "nominal"}}},
  {"mark": {"type": "tick", "orient": "horizontal", "size": 6, "thickness": 1.3},
   "encoding": {"x": {"field": "x", "type": "quantitative", "axis": null}, "y": {"field": "hi", "type": "quantitative", "axis": null}, "color": {"field": "s", "type": "nominal"}}},
  {"mark": {"type": "line", "strokeWidth": 1.3},
   "encoding": {"x": {"field": "x", "type": "quantitative", "axis": {"orient": "top", "labels": false, "title": null, "values": [0, 5, 10, 15, 20, 25]}}, "y": {"field": "m", "type": "quantitative", "axis": {"orient": "right", "labels": false, "title": null, "values": [0.3, 0.4, 0.5, 0.6, 0.7, 0.8, 0.9, 1]}}, "color": {"field": "s", "type": "nominal"}}}
 ]},
{"title": "α of GENU", "width": 291, "height": 221,
 "transform": [{"filter": "datum.p === 'A-GENU'"}],
 "resolve": {"axis": {"x": "independent", "y": "independent"}},
 "layer": [
  {"mark": {"type": "rule", "strokeWidth": 1.3},
   "encoding": {
    "x": {"field": "x", "type": "quantitative", "scale": {"domain": [0, 25]}, "axis": {"values": [0, 5, 10, 15, 20, 25], "title": "# of rejections"}},
    "y": {"field": "lo", "type": "quantitative", "scale": {"domain": [-5, 50]}, "axis": {"values": [0, 10, 20, 30, 40, 50], "title": "α (degree)"}},
    "y2": {"field": "hi"},
    "color": {"field": "s", "type": "nominal", "scale": {"domain": ["15 directions", "30 directions", "55 directions"], "range": ["#6b6bff", "#ff6b6b", "#2fe82f"]}, "legend": {"orient": "none", "legendX": 158, "legendY": 5, "symbolType": "M-1.5,0L1.5,0"}}}},
  {"mark": {"type": "tick", "orient": "horizontal", "size": 6, "thickness": 1.3},
   "encoding": {"x": {"field": "x", "type": "quantitative", "axis": null}, "y": {"field": "lo", "type": "quantitative", "axis": null}, "color": {"field": "s", "type": "nominal"}}},
  {"mark": {"type": "tick", "orient": "horizontal", "size": 6, "thickness": 1.3},
   "encoding": {"x": {"field": "x", "type": "quantitative", "axis": null}, "y": {"field": "hi", "type": "quantitative", "axis": null}, "color": {"field": "s", "type": "nominal"}}},
  {"mark": {"type": "line", "strokeWidth": 1.3},
   "encoding": {"x": {"field": "x", "type": "quantitative", "axis": {"orient": "top", "labels": false, "title": null, "values": [0, 5, 10, 15, 20, 25]}}, "y": {"field": "m", "type": "quantitative", "axis": {"orient": "right", "labels": false, "title": null, "values": [0, 10, 20, 30, 40, 50]}}, "color": {"field": "s", "type": "nominal"}}}
 ]},
{"title": "α of PLIC", "width": 291, "height": 221,
 "transform": [{"filter": "datum.p === 'A-PLIC'"}],
 "resolve": {"axis": {"x": "independent", "y": "independent"}},
 "layer": [
  {"mark": {"type": "rule", "strokeWidth": 1.3},
   "encoding": {
    "x": {"field": "x", "type": "quantitative", "scale": {"domain": [0, 25]}, "axis": {"values": [0, 5, 10, 15, 20, 25], "title": "# of rejections"}},
    "y": {"field": "lo", "type": "quantitative", "scale": {"domain": [-5, 50]}, "axis": {"values": [0, 10, 20, 30, 40, 50], "title": "α (degree)"}},
    "y2": {"field": "hi"},
    "color": {"field": "s", "type": "nominal", "scale": {"domain": ["15 directions", "30 directions", "55 directions"], "range": ["#6b6bff", "#ff6b6b", "#2fe82f"]}, "legend": {"orient": "none", "legendX": 149, "legendY": 1, "symbolType": "M-1.5,0L1.5,0"}}}},
  {"mark": {"type": "tick", "orient": "horizontal", "size": 6, "thickness": 1.3},
   "encoding": {"x": {"field": "x", "type": "quantitative", "axis": null}, "y": {"field": "lo", "type": "quantitative", "axis": null}, "color": {"field": "s", "type": "nominal"}}},
  {"mark": {"type": "tick", "orient": "horizontal", "size": 6, "thickness": 1.3},
   "encoding": {"x": {"field": "x", "type": "quantitative", "axis": null}, "y": {"field": "hi", "type": "quantitative", "axis": null}, "color": {"field": "s", "type": "nominal"}}},
  {"mark": {"type": "line", "strokeWidth": 1.3},
   "encoding": {"x": {"field": "x", "type": "quantitative", "axis": {"orient": "top", "labels": false, "title": null, "values": [0, 5, 10, 15, 20, 25]}}, "y": {"field": "m", "type": "quantitative", "axis": {"orient": "right", "labels": false, "title": null, "values": [0, 10, 20, 30, 40, 50]}}, "color": {"field": "s", "type": "nominal"}}}
 ]},
{"title": "α of OR", "width": 291, "height": 221,
 "transform": [{"filter": "datum.p === 'A-OR'"}],
 "resolve": {"axis": {"x": "independent", "y": "independent"}},
 "layer": [
  {"mark": {"type": "rule", "strokeWidth": 1.3},
   "encoding": {
    "x": {"field": "x", "type": "quantitative", "scale": {"domain": [0, 25]}, "axis": {"values": [0, 5, 10, 15, 20, 25], "title": "# of rejections"}},
    "y": {"field": "lo", "type": "quantitative", "scale": {"domain": [-5, 60]}, "axis": {"values": [0, 10, 20, 30, 40, 50, 60], "title": "α (degree)"}},
    "y2": {"field": "hi"},
    "color": {"field": "s", "type": "nominal", "scale": {"domain": ["15 directions", "30 directions", "55 directions"], "range": ["#6b6bff", "#ff6b6b", "#2fe82f"]}, "legend": {"orient": "none", "legendX": 151, "legendY": 5, "symbolType": "M-1.5,0L1.5,0"}}}},
  {"mark": {"type": "tick", "orient": "horizontal", "size": 6, "thickness": 1.3},
   "encoding": {"x": {"field": "x", "type": "quantitative", "axis": null}, "y": {"field": "lo", "type": "quantitative", "axis": null}, "color": {"field": "s", "type": "nominal"}}},
  {"mark": {"type": "tick", "orient": "horizontal", "size": 6, "thickness": 1.3},
   "encoding": {"x": {"field": "x", "type": "quantitative", "axis": null}, "y": {"field": "hi", "type": "quantitative", "axis": null}, "color": {"field": "s", "type": "nominal"}}},
  {"mark": {"type": "line", "strokeWidth": 1.3},
   "encoding": {"x": {"field": "x", "type": "quantitative", "axis": {"orient": "top", "labels": false, "title": null, "values": [0, 5, 10, 15, 20, 25]}}, "y": {"field": "m", "type": "quantitative", "axis": {"orient": "right", "labels": false, "title": null, "values": [0, 10, 20, 30, 40, 50, 60]}}, "color": {"field": "s", "type": "nominal"}}}
 ]}
]
}
